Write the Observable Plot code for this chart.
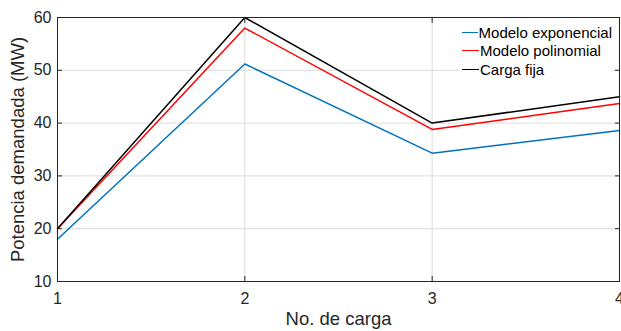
<!DOCTYPE html>
<html><head><meta charset="utf-8">
<script src="https://cdn.jsdelivr.net/npm/d3@7"></script>
<script src="https://cdn.jsdelivr.net/npm/@observablehq/plot@0.6"></script>
<style>
body{margin:0;background:#fff;font-family:"Liberation Sans",Arial,sans-serif}
#c{position:relative;width:621px;height:331px;overflow:hidden}
#legend{position:absolute;left:459px;top:21px;width:153px;background:#fff;padding:2px 0 3px 0;font-size:15px;color:#000;white-space:nowrap}
#legend .row{display:flex;align-items:center;height:18.5px}
#legend .sw{width:17px;height:0;border-top:1.5px solid;margin:0 1px 0 3px}
</style>
</head><body><div id="c"></div>
<script>
const cargas = [1, 2, 3, 4];
const exponencial = [18, 51.2, 34.3, 38.6];
const polinomial = [20, 58, 38.8, 43.7];
const fija = [20, 60, 40, 45];
const seriesNames = ["Modelo exponencial", "Modelo polinomial", "Carga fija"];
const seriesColors = ["#0072BD", "#FF0000", "#000000"];
const yTicks = [10, 20, 30, 40, 50, 60];
const xTicks = [1, 2, 3, 4];
const xLabel = "No. de carga";
const yLabel = "Potencia demandada (MW)";

const seriesValues = [exponencial, polinomial, fija];
const data = seriesValues.flatMap((vals, k) => vals.map((v, i) => ({x: cargas[i], y: v, s: seriesNames[k]})));

const tickColor = "#262626";
const fmt = d => String(d);
const chart = Plot.plot({
  width: 621, height: 331,
  marginLeft: 57, marginRight: 2, marginTop: 17, marginBottom: 50,
  style: {fontFamily: "Liberation Sans, Arial, sans-serif", background: "#fff", overflow: "visible"},
  x: {domain: [1, 4]},
  y: {domain: [10, 60]},
  color: {domain: seriesNames, range: seriesColors},
  marks: [
    Plot.ruleX(xTicks.slice(1, -1), {stroke: "#dcdcdc", strokeWidth: 1}),
    Plot.ruleY(yTicks.slice(1, -1), {stroke: "#dcdcdc", strokeWidth: 1}),
    Plot.line(data, {x: "x", y: "y", z: "s", stroke: "s", strokeWidth: 1.5}),
    Plot.frame({stroke: tickColor, strokeWidth: 1}),
    Plot.axisY(yTicks, {anchor: "left", tickSize: 0, tickPadding: 6, fontSize: 16, fill: tickColor, label: null, tickFormat: fmt}),
    Plot.axisY(yTicks, {anchor: "left", tickSize: -5, text: null, stroke: tickColor, label: null}),
    Plot.axisY(yTicks, {anchor: "right", tickSize: -5, text: null, stroke: tickColor, label: null}),
    Plot.axisX(xTicks, {anchor: "bottom", tickSize: 0, tickPadding: 11, fontSize: 16, fill: tickColor, label: null, tickFormat: fmt}),
    Plot.axisX(xTicks, {anchor: "bottom", tickSize: -5, text: null, stroke: tickColor, label: null}),
    Plot.axisX(xTicks, {anchor: "top", tickSize: -5, text: null, stroke: tickColor, label: null}),
    Plot.text([xLabel], {frameAnchor: "bottom", dy: 43, fontSize: 18.5, fill: tickColor, text: d => d}),
    Plot.text([yLabel], {frameAnchor: "left", dx: -39, rotate: -90, textAnchor: "middle", fontSize: 18.5, fill: tickColor, text: d => d})
  ]
});
const c = document.getElementById("c");
c.appendChild(chart);
const lg = document.createElement("div");
lg.id = "legend";
seriesNames.forEach((n, k) => {
  const r = document.createElement("div");
  r.className = "row";
  const sw = document.createElement("span");
  sw.className = "sw";
  sw.style.borderTopColor = seriesColors[k];
  const t = document.createElement("span");
  t.textContent = n;
  r.appendChild(sw); r.appendChild(t);
  lg.appendChild(r);
});
c.appendChild(lg);
</script>
</body></html>
